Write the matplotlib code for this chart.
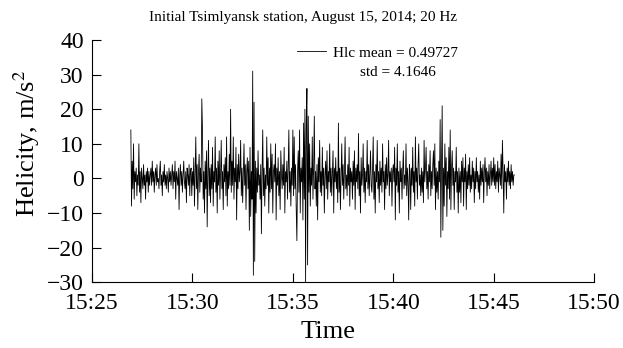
import datetime as dt
import numpy as np
import matplotlib
matplotlib.use("Agg")
import matplotlib.pyplot as plt
import matplotlib.dates as mdates

# helicity samples, one every 2 s, one row per minute
start_time = dt.datetime(2014, 8, 15, 15, 26, 56)
step_sec = 2
hlc_rows = [
    [14, -8, 5, -3, 10, -6, 2, -1, 3, -5, 1, -2, 10, -4, 2, -7, 3, 0, -3, 4, -2, 1, -6, 2, -1, 3, -4, 2, -2, 1],
    [3, -2, 5, -1, 2, -4, 1, 3, -2, 4, -1, 0, -3, 2, 5, -2, 1, -5, 2, -1, 4, -2, 1, -3, 2, 0, -4, 3, -1, 2],
    [-2, 1, 4, -3, 2, -1, 5, -6, 2, 0, -2, 3, -9, 1, 4, -2, 2, -4, 1, 5, -1, -3, 2, -7, 3, 1, -2, 4, -5, 2],
    [3, -5, 2, -2, 6, -8, 1, 12, -3, 4, -9, 2, 7, -4, 3, -1, 23, 14, -6, 2, -10, 5, -3, 8, -14, 2, 11, -5, 3, -7],
    [4, -3, 9, -8, 2, -1, 12, -4, 3, -10, 5, -2, 8, -6, 1, 11, -3, 2, -9, 4, -1, 6, -5, 12, -8, 2, -3, 7, -2, 20],
    [-4, 5, -2, 12, -6, 3, -1, 9, -12, 4, -3, 7, -1, 2, 11, -5, 3, -7, 1, 10, -2, 4, -9, 2, 6, -3, 5, -15, 9, -11],
    [2, -6, 31, -28, 22, -24, 5, -10, 3, -4, 8, -2, 1, -6, 4, -16, 2, 14, -5, 3, -8, 1, -3, 12, -2, 6, -10, 3, -4, 10],
    [-3, 7, -10, 2, 4, -1, 10, -12, 3, -2, 6, -5, 2, -9, 8, 1, -3, 4, -2, 9, -10, 2, -1, 5, -6, 3, 14, -4, 2, -8],
    [3, -2, 14, -5, 12, -3, 4, -9, -18, 2, 8, -4, 14, -10, 3, -1, 6, -12, 16, -6, 20, -30, 16, 26, -25, 18, -4, 10, -8, 3],
    [-2, 12, -6, 3, 18, -3, 2, -8, 4, -12, 6, -1, 11, -4, 2, -5, 9, -2, 3, -10, 1, 5, -3, 8, -6, 2, -1, 10, -4, 3],
    [-5, 2, 8, -10, 3, -1, 6, -3, 2, -7, 16, -4, 3, -9, 1, 10, -2, 4, -6, 2, 12, -3, 1, -5, 4, -2, 9, -8, 3, -1],
    [2, -6, 5, -2, 8, -9, 3, -1, 4, -3, 13, -5, 2, -10, 6, -2, 1, 10, -4, 3, -7, 2, -1, 11, -3, 4, -5, 2, 8, -2],
    [-4, 3, 12, -6, 2, -10, 4, -1, 11, -3, 2, -7, 5, -2, 3, -4, 10, -1, 2, -9, 4, -3, 6, -2, 1, 11, -5, 2, -1, 3],
    [-8, 2, 4, -1, 9, -12, 3, -2, 10, -4, 2, -10, 5, -1, 3, -6, 2, 8, -3, 1, -2, 10, -5, 3, -1, -12, 4, 2, -9, 3],
    [-2, 9, -4, 2, -8, 12, -1, 3, -6, 4, 10, -2, 1, -5, 3, -4, 2, -7, 11, -1, 3, 9, -3, 2, -6, 4, -1, 8, -5, 2],
    [-3, 4, 8, -2, 10, -9, 3, -4, 2, -6, 5, -1, 17, -17, 4, 21, -15, 3, -8, 10, -2, 6, -11, 2, -3, 9, -6, 14, -9, 3],
    [8, -2, 3, -9, 2, -1, 9, -4, 2, -10, 3, -4, 2, -7, 5, -1, 6, -8, 3, -1, 7, -9, 2, -3, 4, -2, 6, -4, 1, -3],
    [5, -1, 3, -7, 2, -3, 6, -1, 2, -4, 1, -6, 5, -2, 3, -1, 4, -7, 2, 6, -1, 3, -5, 2, -2, 4, -3, 1, 5, -2],
    [3, -1, 6, -2, 4, -3, 2, -1, 5, -4, 3, 1, -2, 7, -3, 11, 2, -10, 4, -1, 2, -6, 3, -1, 5, -2, 2, -3, 4, -1, 2, -2, 1, 1],
]
hlc_mean = 0.49727
hlc_std = 4.1646

hlc = np.array([v for row in hlc_rows for v in row], dtype=float)
times = [start_time + dt.timedelta(seconds=step_sec * i) for i in range(len(hlc))]

plt.rcParams["font.family"] = ["Liberation Serif", "DejaVu Serif"]
plt.rcParams["mathtext.fontset"] = "stix"

fig = plt.figure(figsize=(6.23, 3.48), dpi=100)
ax = fig.add_axes([0.1477, 0.189, 0.806, 0.696])

ax.plot(times, hlc, color="black", lw=0.6, label="Hlc mean = %.5f" % hlc_mean)

ax.set_xlim(dt.datetime(2014, 8, 15, 15, 25), dt.datetime(2014, 8, 15, 15, 50))
ax.set_ylim(-30, 40)
ax.set_yticks(range(-30, 41, 10))
ax.set_yticklabels(["\u221230", "\u221220", "\u221210", "0", "10", "20", "30", "40"])
ax.xaxis.set_major_locator(mdates.MinuteLocator(byminute=range(0, 60, 5)))
ax.xaxis.set_major_formatter(mdates.DateFormatter("%H:%M"))

for s in ["top", "right"]:
    ax.spines[s].set_visible(False)
ax.tick_params(direction="in", labelsize=17, width=0.8, length=6.5)
ax.tick_params(axis="y", pad=6)
ax.tick_params(axis="x", pad=8)

ax.set_xlabel("Time", fontsize=19, va="top")
ax.xaxis.set_label_coords(0.471, -0.16)
ax.set_ylabel("Helicity, m/s$^2$", fontsize=19)
ax.yaxis.set_label_coords(-0.10, 0.573)
fig.text(0.486, 0.951, "Initial Tsimlyansk station, August 15, 2014; 20 Hz",
         ha="center", va="center", fontsize=11)

ax.legend(loc="center left", bbox_to_anchor=(0.476, 0.848),
          bbox_transform=fig.transFigure, frameon=False, fontsize=11,
          handlelength=1.95, handletextpad=0.46, borderpad=0, borderaxespad=0)
fig.text(0.639, 0.791, "std = %.4f" % hlc_std, ha="center", va="center", fontsize=11)

fig.savefig("out.png", dpi=100)
